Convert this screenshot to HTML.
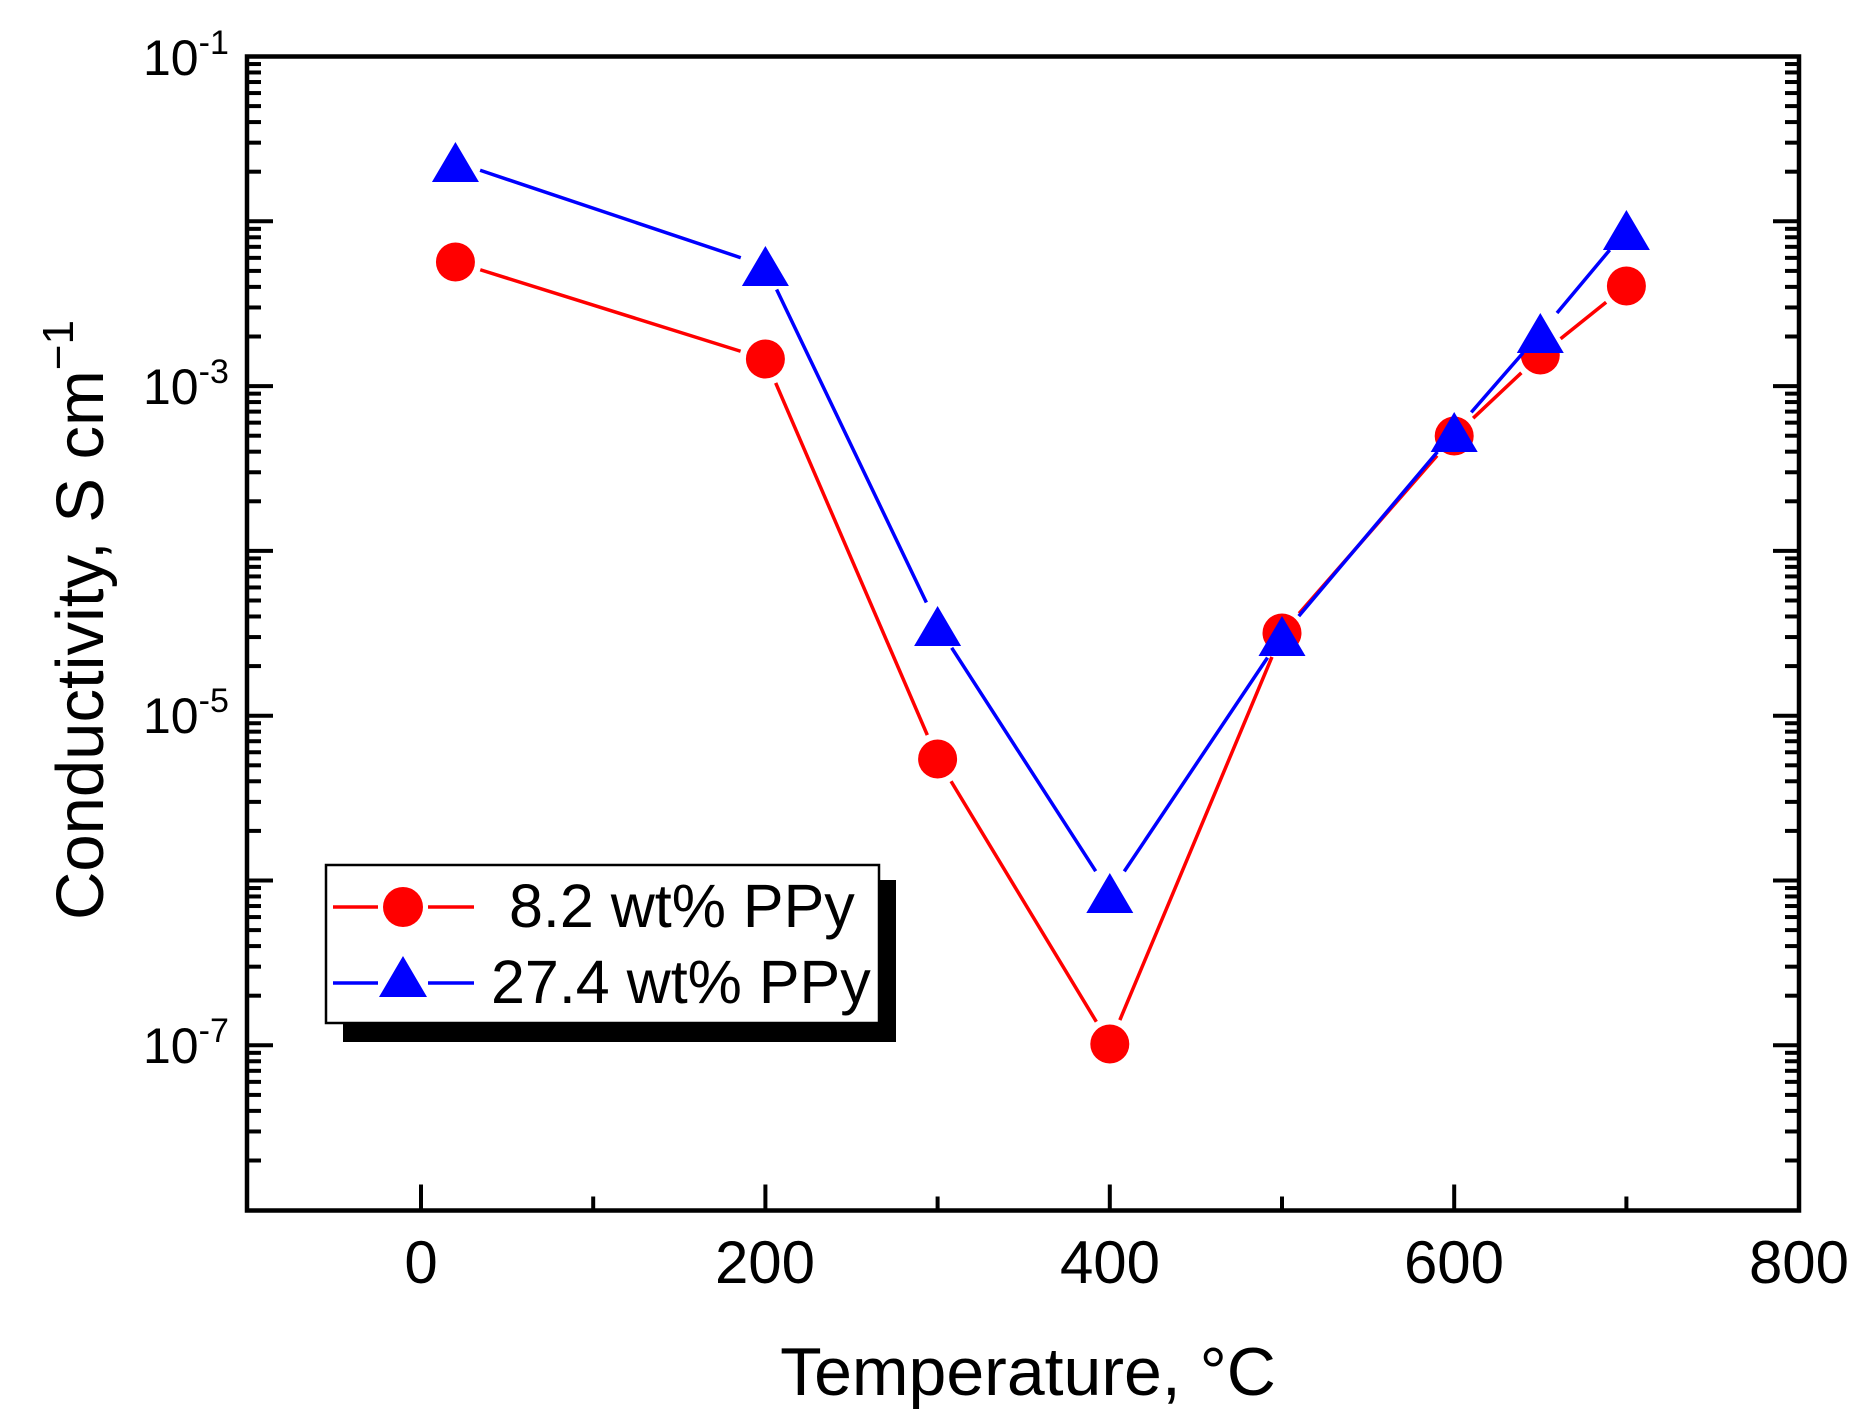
<!DOCTYPE html>
<html><head><meta charset="utf-8"><style>
html,body{margin:0;padding:0;background:#fff;}
svg{display:block;font-family:"Liberation Sans",Arial,sans-serif;}
</style></head><body>
<svg id="s" width="1866" height="1419" viewBox="0 0 1866 1419" xmlns="http://www.w3.org/2000/svg">
<rect width="1866" height="1419" fill="#fff"/>
<g id="ticks" stroke="#000" stroke-width="4"></g>
<g id="data"></g>
<rect x="247" y="56.5" width="1552" height="1154" fill="none" stroke="#000" stroke-width="4.5"/>
<g font-size="50" fill="#000" text-anchor="start">
<text x="143" y="75">10<tspan font-size="34" dy="-21">-1</tspan></text>
<text x="143" y="404">10<tspan font-size="34" dy="-21">-3</tspan></text>
<text x="143" y="733">10<tspan font-size="34" dy="-21">-5</tspan></text>
<text x="143" y="1063">10<tspan font-size="34" dy="-21">-7</tspan></text>
</g>
<g font-size="60" fill="#000" text-anchor="middle">
<text x="421" y="1283">0</text>
<text x="765" y="1283">200</text>
<text x="1110" y="1283">400</text>
<text x="1454" y="1283">600</text>
<text x="1799" y="1283">800</text>
</g>
<text x="1028" y="1395" font-size="68" text-anchor="middle" fill="#000">Temperature, °C</text>
<text transform="translate(103,620) rotate(-90)" font-size="67" text-anchor="middle" fill="#000">Conductivity, S cm<tspan font-size="44" dy="-30">−1</tspan></text>
<rect x="343" y="880" width="553" height="162" fill="#000"/>
<rect x="326" y="865" width="553" height="158" fill="#fff" stroke="#000" stroke-width="2.5"/>
<line x1="333" y1="907" x2="474" y2="907" stroke="#f00" stroke-width="3.5"/>
<rect x="378" y="900" width="50" height="14" fill="#fff"/>
<circle cx="403" cy="907" r="20" fill="#f00"/>
<line x1="333" y1="983" x2="474" y2="983" stroke="#00f" stroke-width="3.5"/>
<rect x="378" y="976" width="50" height="14" fill="#fff"/>
<polygon points="403,956 427,997 379,997" fill="#00f"/>
<text x="509" y="927" font-size="61" fill="#000">8.2 wt% PPy</text>
<text x="491" y="1003" font-size="61" fill="#000">27.4 wt% PPy</text>
</svg>
<script>
(function(){
var NS="http://www.w3.org/2000/svg";
var t=document.getElementById('ticks');
function ln(g,x1,y1,x2,y2,c,w){var l=document.createElementNS(NS,'line');l.setAttribute('x1',x1);l.setAttribute('y1',y1);l.setAttribute('x2',x2);l.setAttribute('y2',y2);if(c)l.setAttribute('stroke',c);if(w)l.setAttribute('stroke-width',w);g.appendChild(l);}
var L=247,R=1799,T=56.5,B=1210.5,D=164.8;
for(var d=0;d<7;d++){
  var y0=T+d*D;
  if(d>0){ln(t,L,y0,L+26,y0);ln(t,R,y0,R-26,y0);}
  for(var k=2;k<=9;k++){
    var y=T+(d+1)*D-Math.log10(k)*D;
    ln(t,L,y,L+14,y);ln(t,R,y,R-14,y);
  }
}
function X(v){return 421+v*1.722;}
for(var v=0;v<=700;v+=100){var maj=(v%200==0);ln(t,X(v),B,X(v),B-(maj?26:14));}
var g=document.getElementById('data');
var red=[[20,262],[200,359],[300,759],[400,1044],[500,633],[600,436],[650,355],[700,286]];
var blue=[[20,162],[200,266],[300,626],[400,893],[500,636],[600,432],[650,333],[700,230]];
function series(pts,c,mk){
  var gap=26;
  for(var i=0;i<pts.length-1;i++){
    var x1=X(pts[i][0]),y1=pts[i][1],x2=X(pts[i+1][0]),y2=pts[i+1][1];
    var dx=x2-x1,dy=y2-y1,len=Math.sqrt(dx*dx+dy*dy);
    if(len>2*gap){var ux=dx/len,uy=dy/len;ln(g,x1+ux*gap,y1+uy*gap,x2-ux*gap,y2-uy*gap,c,3.5);}
  }
  for(var i=0;i<pts.length;i++){
    var x=X(pts[i][0]),y=pts[i][1];
    if(mk=='c'){var e=document.createElementNS(NS,'circle');e.setAttribute('cx',x);e.setAttribute('cy',y);e.setAttribute('r',19.5);e.setAttribute('fill',c);g.appendChild(e);}
    else{var p=document.createElementNS(NS,'polygon');p.setAttribute('points',x+','+(y-20)+' '+(x+23.5)+','+(y+20)+' '+(x-23.5)+','+(y+20));p.setAttribute('fill',c);g.appendChild(p);}
  }
}
series(red,'#f00','c');
series(blue,'#00f','t');
})();
</script>
</body></html>
